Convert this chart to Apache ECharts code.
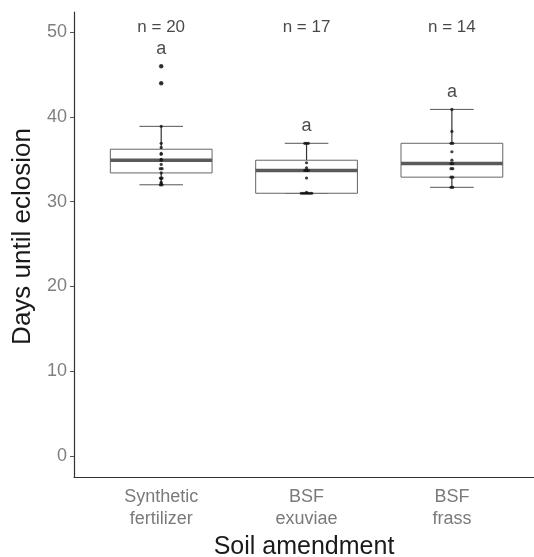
<!DOCTYPE html>
<html>
<head>
<meta charset="utf-8">
<script src="https://cdn.jsdelivr.net/npm/echarts@6/dist/echarts.min.js"></script>
<style>
html,body{margin:0;padding:0;background:#fff;}
#c{width:534px;height:557px;}
</style>
</head>
<body>
<div id="c"></div>
<script>
// ---- data ----
const categories = ['Synthetic\nfertilizer', 'BSF\nexuviae', 'BSF\nfrass'];
// [lower whisker, Q1, median, Q3, upper whisker]
const boxStats = [
  [32.0, 33.4, 34.9, 36.2, 38.9],
  [31.0, 31.0, 33.7, 34.9, 36.9],
  [31.7, 32.9, 34.5, 36.9, 40.9]
];
const pointsSynthetic = [46, 44, 38.9, 36.9, 36.4, 35.7, 35.6, 35.0, 34.9, 34.4, 33.9, 33.9, 33.4, 32.8, 32.8, 32.7, 32.3, 32.1, 32.0, 32.0];
const pointsExuviae = [36.9, 36.9, 36.9, 34.6, 34.0, 33.7, 33.7, 33.7, 32.8, 31.1, 31.0, 31.0, 31.0, 31.0, 31.0, 31.0, 31.0];
const pointsFrass = [40.9, 38.3, 36.9, 36.9, 35.9, 34.9, 34.5, 34.5, 33.9, 33.9, 32.9, 32.9, 31.7, 31.7];
const outliers = [[0, 46], [0, 44]];
const sampleSizes = ['n = 20', 'n = 17', 'n = 14'];
const letters = ['a', 'a', 'a'];
const yTickValues = [0, 10, 20, 30, 40, 50];

// ---- build ----
const allPoints = [pointsSynthetic, pointsExuviae, pointsFrass];
const scatterData = [];
allPoints.forEach((arr, ci) => {
  const counts = {};
  arr.forEach(v => { counts[v] = (counts[v] || 0) + 1; });
  const seen = {};
  arr.forEach(v => {
    const k = seen[v] || 0; seen[v] = k + 1;
    const off = (k - (counts[v] - 1) / 2) * 0.012;
    scatterData.push([ci + 1 + off, v]);
  });
});
const outlierData = outliers.map(o => [o[0] + 1, o[1]]);
const nLabelY = 50.6;
const nData = sampleSizes.map((s, i) => ({ value: [i + 1, nLabelY], name: s }));
const letterData = letters.map((s, i) => ({ value: [i + 1, Math.max(...allPoints[i]) + 2.0], name: s }));
const boxData = boxStats.map((b, i) => [i + 1].concat(b));

const chart = echarts.init(document.getElementById('c'), null, { renderer: 'canvas' });
const FONT = '"Liberation Sans", Arial, Helvetica, sans-serif';
chart.setOption({
  animation: false,
  backgroundColor: '#fff',
  grid: { left: 74, right: 0, top: 12, bottom: 80, containLabel: false, outerBoundsMode: 'none' },
  xAxis: {
    type: 'value', min: 0.4, max: 3.565,
    name: 'Soil amendment', nameLocation: 'middle', nameGap: 55,
    nameTextStyle: { fontFamily: FONT, fontSize: 25, color: '#1a1a1a' },
    axisLine: { show: true, onZero: false, lineStyle: { color: '#333', width: 1.2 } },
    axisTick: { show: false },
    splitLine: { show: false },
    axisLabel: {
      customValues: [1, 2, 3],
      formatter: v => categories[Math.round(v) - 1] || '',
      fontFamily: FONT, fontSize: 18, color: '#7a7a7a', lineHeight: 22, margin: 9
    }
  },
  yAxis: {
    type: 'value', min: -2.5, max: 52.4,
    name: 'Days until eclosion', nameLocation: 'middle', nameGap: 37, nameRotate: 90,
    nameTextStyle: { fontFamily: FONT, fontSize: 26, color: '#1a1a1a', padding: [0, 0, 0, 16] },
    axisLine: { show: true, onZero: false, lineStyle: { color: '#333', width: 1.2 } },
    axisTick: { show: true, customValues: yTickValues, length: 4, lineStyle: { color: '#555' } },
    splitLine: { show: false },
    axisLabel: {
      customValues: yTickValues,
      fontFamily: FONT, fontSize: 18, color: '#7f7f7f', margin: 7
    }
  },
  series: [
    {
      type: 'custom',
      data: boxData,
      encode: { x: 0, y: [1, 2, 3, 4, 5] },
      renderItem: function (params, api) {
        const x = api.value(0);
        const lo = api.coord([x, api.value(1)]);
        const q1 = api.coord([x, api.value(2)]);
        const md = api.coord([x, api.value(3)]);
        const q3 = api.coord([x, api.value(4)]);
        const hi = api.coord([x, api.value(5)]);
        const half = api.size([0.35, 0])[0];
        const cap = api.size([0.15, 0])[0];
        const cx = lo[0];
        const children = [];
        children.push({ type: 'line', shape: { x1: cx, y1: q3[1], x2: cx, y2: hi[1] }, style: { stroke: '#333', lineWidth: 1.2 } });
        children.push({ type: 'line', shape: { x1: cx, y1: q1[1], x2: cx, y2: lo[1] }, style: { stroke: '#333', lineWidth: 1.2 } });
        children.push({ type: 'line', shape: { x1: cx - cap, y1: hi[1], x2: cx + cap, y2: hi[1] }, style: { stroke: '#555', lineWidth: 1 } });
        children.push({ type: 'line', shape: { x1: cx - cap, y1: lo[1], x2: cx + cap, y2: lo[1] }, style: { stroke: '#555', lineWidth: 1 } });
        children.push({ type: 'rect', shape: { x: cx - half, y: q3[1], width: half * 2, height: q1[1] - q3[1] }, style: { fill: '#fff', stroke: '#666', lineWidth: 1 } });
        children.push({ type: 'line', shape: { x1: cx - half, y1: md[1], x2: cx + half, y2: md[1] }, style: { stroke: '#5a5a5a', lineWidth: 3.5 } });
        return { type: 'group', children: children };
      },
      z: 2
    },
    {
      type: 'scatter', data: scatterData, symbolSize: 3.2,
      itemStyle: { color: '#111' }, z: 3
    },
    {
      type: 'scatter', data: outlierData, symbolSize: 4.5,
      itemStyle: { color: '#222' }, z: 3
    },
    {
      type: 'scatter', data: nData, symbolSize: 0,
      label: { show: true, position: 'inside', formatter: p => p.name, fontFamily: FONT, fontSize: 17, color: '#1a1a1a' },
      z: 4
    },
    {
      type: 'scatter', data: letterData, symbolSize: 0,
      label: { show: true, position: 'inside', formatter: p => p.name, fontFamily: FONT, fontSize: 18, color: '#1a1a1a' },
      z: 4
    }
  ]
});
</script>
</body>
</html>
